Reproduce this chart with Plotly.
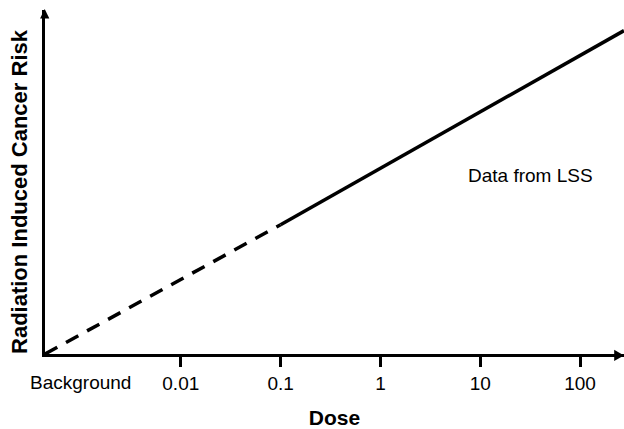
import plotly.graph_objects as go

# Dose axis: positions in decades (log10 of dose)
tick_pos = [-2, -1, 0, 1, 2]
tick_labels = ["0.01", "0.1", "1", "10", "100"]
background_pos = -3
background_label = "Background"

# Extrapolated (dashed) low-dose segment
extrap_dose = [-3.36, -1.0]
extrap_risk = [0.0, 0.376]

# LSS data (solid) segment
lss_dose = [-1.0, 2.44]
lss_risk = [0.376, 0.94]

fig = go.Figure()
fig.add_trace(go.Scatter(x=extrap_dose, y=extrap_risk, mode="lines",
                         line=dict(color="black", width=3.5, dash="14px,10px"),
                         showlegend=False, hoverinfo="skip"))
fig.add_trace(go.Scatter(x=lss_dose, y=lss_risk, mode="lines",
                         line=dict(color="black", width=3.5),
                         showlegend=False, hoverinfo="skip"))

font = "Liberation Sans, Arial, sans-serif"
fig.update_layout(
    width=624, height=429,
    margin=dict(l=45, r=0, t=10, b=75),
    paper_bgcolor="white", plot_bgcolor="white",
    font=dict(family=font, color="black", size=20),
    xaxis=dict(range=[-3.36, 2.44], showgrid=False, zeroline=False, automargin=False,
               showline=True, linecolor="black", linewidth=3,
               tickmode="array", tickvals=tick_pos, ticktext=tick_labels,
               ticks="outside", ticklen=10, tickwidth=3, tickcolor="black",
               tickfont=dict(size=19), fixedrange=True,
               title=dict(text="<b>Dose</b>", font=dict(size=21), standoff=18)),
    yaxis=dict(range=[0, 1], showgrid=False, zeroline=False, automargin=False,
               showline=True, linecolor="black", linewidth=3,
               showticklabels=False, ticks="", fixedrange=True),
    annotations=[
        dict(x=0, y=0.471, xref="paper", yref="paper", xshift=-25, textangle=-90,
             xanchor="center", yanchor="middle",
             text="<b>Radiation Induced Cancer Risk</b>", showarrow=False,
             font=dict(size=22)),
        dict(x=background_pos, y=0, xref="x", yref="paper", yshift=-41,
             text=background_label, showarrow=False, font=dict(size=19)),
        dict(x=1.5, y=0.52, xref="x", yref="y", text="Data from LSS", showarrow=False,
             font=dict(size=19)),
    ],
    shapes=[
        # arrowhead on y axis
        dict(type="path", xref="paper", yref="paper",
             path="M -0.0085,0.975 L 0.0075,0.975 L -0.0005,1.003 Z",
             fillcolor="black", line=dict(color="black", width=0)),
        # arrowhead on x axis
        dict(type="path", xref="paper", yref="paper",
             path="M 0.983,0.012 L 0.983,-0.020 L 1.0,-0.004 Z",
             fillcolor="black", line=dict(color="black", width=0)),
    ],
)

fig.write_html("out.html", config={"displayModeBar": False},
               post_script="document.body.style.margin='0';document.body.style.padding='0';document.body.style.overflow='hidden';")
